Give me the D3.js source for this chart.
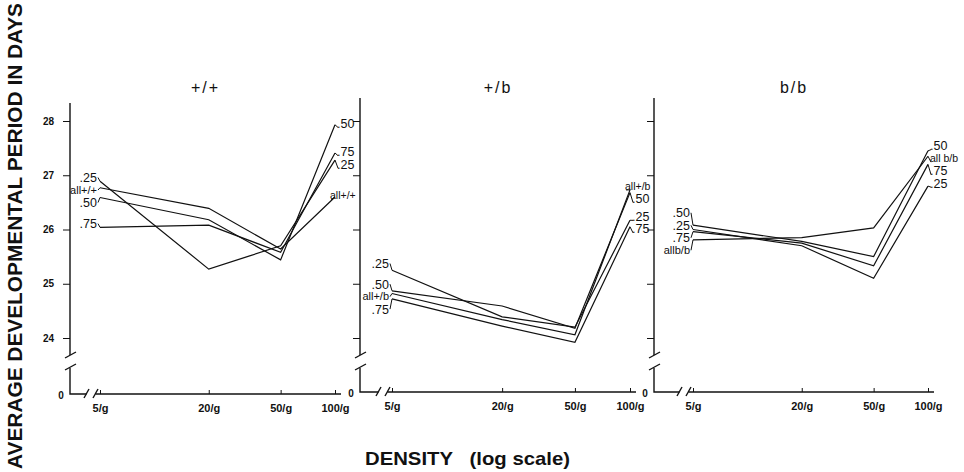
<!DOCTYPE html>
<html>
<head>
<meta charset="utf-8">
<script src="https://cdn.jsdelivr.net/npm/d3@7"></script>
<style>
  body { margin: 0; background: #fff; }
  text { font-family: "Liberation Sans", Arial, sans-serif; fill: #111; }
</style>
</head>
<body>
<div id="chart"></div>
<script>
// densities (x, log scale) and their tick labels
const densities = [5, 20, 50, 100];
const densityLabels = ["5/g", "20/g", "50/g", "100/g"];
const yTicks = [24, 25, 26, 27, 28];
const genotypes = ["+/+", "+/b", "b/b"];

// series names, the "all" series is named per genotype
const seriesNames = [".25", ".50", ".75"];
const allNamesLeft = ["all+/+", "all+/b", "allb/b"];
const allNamesRight = ["all+/+", "all+/b", "all b/b"];

// average developmental period (days) at 5, 20, 50, 100 per g
const pp25 = [26.89, 25.27, 25.70, 27.28];
const pp50 = [26.59, 26.18, 25.44, 27.93];
const pp75 = [26.04, 26.08, 25.58, 27.41];
const ppAll = [26.77, 26.39, 25.64, 26.60];

const pb25 = [25.25, 24.39, 24.20, 26.17];
const pb50 = [24.87, 24.59, 24.18, 26.68];
const pb75 = [24.72, 24.22, 23.92, 26.05];
const pbAll = [24.82, 24.34, 24.06, 26.73];

const bb25 = [26.00, 25.70, 25.10, 26.80];
const bb50 = [26.08, 25.78, 25.50, 27.45];
const bb75 = [25.96, 25.75, 25.33, 27.20];
const bbAll = [25.81, 25.85, 26.03, 27.35];

const panelValues = [
  [pp25, pp50, pp75, ppAll],
  [pb25, pb50, pb75, pbAll],
  [bb25, bb50, bb75, bbAll],
];

// layout of the three panels
const panels = [
  { axisX: 70, xRange: [100, 335], top: 103, zeroY: 394 },
  { axisX: 360, xRange: [392, 630], top: 98, zeroY: 392 },
  { axisX: 654, xRange: [693, 928], top: 98, zeroY: 392 },
];

const W = 964, H = 472;
const svg = d3.select("#chart").append("svg")
  .attr("width", W).attr("height", H);

const y = d3.scaleLinear().domain([24, 28]).range([338, 121]);
const line = d3.line();

// spread label positions so they don't overlap, keeping their centre
function spread(ys, gap) {
  const idx = ys.map((v, i) => i).sort((a, b) => ys[a] - ys[b]);
  const out = ys.slice();
  for (let k = 1; k < idx.length; k++) {
    out[idx[k]] = Math.max(ys[idx[k]], out[idx[k - 1]] + gap);
  }
  const shift = d3.mean(ys) - d3.mean(out);
  return out.map((v) => v + shift);
}

panels.forEach((p, pi) => {
  const g = svg.append("g").attr("class", "panel");
  const x = d3.scaleLog().domain([5, 100]).range(p.xRange);
  const x5 = x(5), xEnd = x(100) + 6;
  const breakTop = 355, breakBottom = 369;

  // title
  g.append("text")
    .attr("x", (p.axisX + xEnd) / 2)
    .attr("y", 93)
    .attr("text-anchor", "middle")
    .style("font-size", "16px")
    .style("letter-spacing", "2px")
    .text(genotypes[pi]);

  // y axis ticks
  const yAxis = g.append("g")
    .attr("transform", "translate(" + p.axisX + ",0)")
    .call(d3.axisLeft(y).tickValues(yTicks).tickSize(7).tickPadding(9)
      .tickFormat(pi === 0 ? (d) => d : () => ""));
  yAxis.select(".domain").remove();
  yAxis.selectAll("line").attr("stroke", "#111");
  yAxis.selectAll("text")
    .style("font-size", "10px").style("font-weight", "bold")
    .style("font-family", "Liberation Sans, Arial, sans-serif");

  // x axis ticks
  const xAxis = g.append("g")
    .attr("transform", "translate(0," + p.zeroY + ")")
    .call(d3.axisBottom(x).tickValues(densities).tickSize(-4).tickPadding(10)
      .tickFormat((d, i) => densityLabels[i]));
  xAxis.select(".domain").remove();
  xAxis.selectAll("line").attr("stroke", "#111");
  xAxis.selectAll("text")
    .style("font-size", "11px").style("font-weight", "bold")
    .style("font-family", "Liberation Sans, Arial, sans-serif");

  // axis lines with breaks
  const axisPaths = [
    [[p.axisX, p.top], [p.axisX, breakTop]],
    [[p.axisX - 5, breakTop + 3], [p.axisX + 6, breakTop - 3]],
    [[p.axisX - 5, breakBottom + 1], [p.axisX + 6, breakBottom - 5]],
    [[p.axisX, breakBottom - 1], [p.axisX, p.zeroY], [x5 - 13.5, p.zeroY]],
    [[x5 - 16, p.zeroY + 4], [x5 - 11, p.zeroY - 5]],
    [[x5 - 7, p.zeroY + 4], [x5 - 2, p.zeroY - 5]],
    [[x5 - 4.5, p.zeroY], [xEnd, p.zeroY]],
  ];
  g.selectAll(".axis-line")
    .data(axisPaths)
    .join("path")
    .attr("class", "axis-line")
    .attr("d", line)
    .attr("fill", "none")
    .attr("stroke", "#111")
    .attr("stroke-width", 1.4);

  g.append("text")
    .attr("x", p.axisX - 9).attr("y", p.zeroY + 5)
    .attr("text-anchor", "middle")
    .style("font-size", "10px").style("font-weight", "bold")
    .text("0");

  // series lines
  const vals = panelValues[pi];
  const names = seriesNames.concat([allNamesLeft[pi]]);
  const namesRight = seriesNames.concat([allNamesRight[pi]]);

  g.selectAll(".series")
    .data(vals)
    .join("path")
    .attr("class", "series")
    .attr("d", (s) => line(s.map((v, i) => [x(densities[i]), y(v)])))
    .attr("fill", "none")
    .attr("stroke", "#111")
    .attr("stroke-width", 1.2);

  // labels at the left end
  const startYs = vals.map((s) => y(s[0]));
  const leftYs = spread(startYs, 12.5);
  vals.forEach((s, i) => {
    g.append("path")
      .attr("d", line([[x5 - 2, leftYs[i]], [x5, startYs[i]]]))
      .attr("stroke", "#111").attr("stroke-width", 1);
    g.append("text")
      .attr("x", x5 - 3).attr("y", leftYs[i])
      .attr("dy", "0.35em")
      .attr("text-anchor", "end")
      .style("font-size", i === 3 ? "11px" : "12.5px")
      .text(names[i]);
  });

  // labels at the right end
  const endYs = vals.map((s) => y(s[3]));
  const rightYs = spread(endYs, 12.5);
  const xr = x(100);
  vals.forEach((s, i) => {
    const isAll = i === 3;
    const lx = isAll && pi < 2 ? xr - 5 : xr + 2;
    g.append("path")
      .attr("d", line([[xr, endYs[i]], [lx + 1, rightYs[i] + 4]]))
      .attr("stroke", "#111").attr("stroke-width", 1);
    g.append("text")
      .attr("x", lx).attr("y", rightYs[i])
      .attr("dy", "0.35em")
      .style("font-size", isAll ? "10.5px" : "12.5px")
      .text(namesRight[i]);
  });
});

// axis titles
svg.append("text")
  .attr("transform", "translate(22,236) rotate(-90)")
  .attr("text-anchor", "middle")
  .attr("textLength", 466)
  .attr("lengthAdjust", "spacingAndGlyphs")
  .style("font-size", "20px")
  .style("font-weight", "bold")
  .text("AVERAGE  DEVELOPMENTAL  PERIOD  IN  DAYS");

svg.append("text")
  .attr("x", 365).attr("y", 465)
  .attr("textLength", 205)
  .attr("lengthAdjust", "spacingAndGlyphs")
  .style("font-size", "19px")
  .style("font-weight", "bold")
  .style("white-space", "pre")
  .text("DENSITY   (log scale)");
</script>
</body>
</html>
